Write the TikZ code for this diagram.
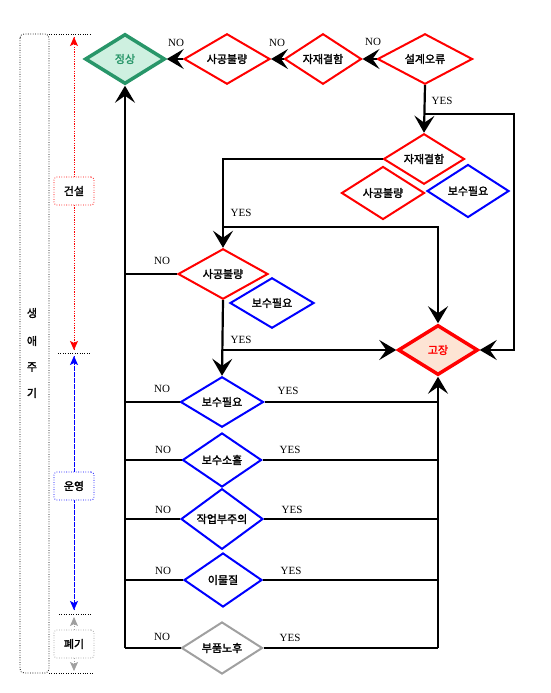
\documentclass[tikz,border=0pt]{standalone}
\usepackage{fontspec}
\setmainfont{Liberation Serif}
\newfontfamily\kr{Noto Sans CJK KR}[FakeBold=2]
\usetikzlibrary{shapes.geometric,arrows.meta}

\definecolor{okgreen}{RGB}{40,150,105}
\definecolor{okfill}{RGB}{206,240,224}
\definecolor{faultfill}{RGB}{253,228,212}
\definecolor{oldgray}{RGB}{160,160,160}

\tikzset{
  dia/.style={diamond, draw, line width=2pt, minimum width=84pt, minimum height=50pt,
    inner sep=0pt, font=\kr\fontsize{11}{12}\selectfont},
  redd/.style={dia, draw=red},
  blued/.style={dia, draw=blue},
  flow/.style={line width=2.2pt},
  arr/.style={flow, -{Stealth[length=17pt,width=20pt,inset=7pt]}},
  yn/.style={font=\fontsize{11}{12}\selectfont, inner sep=0pt},
  dots/.style={line width=0.8pt, dash pattern=on 0.8pt off 1.6pt},
  phase/.style={dots, rounded corners=3pt, fill=white, minimum width=40pt,
    minimum height=28pt, inner sep=0pt, font=\kr\fontsize{11}{12}\selectfont},
  tip/.style={-{Stealth[length=9pt,width=8pt,inset=2pt]}},
}

\begin{document}
\begin{tikzpicture}[x=1pt,y=-1pt]
  \useasboundingbox (0,0) rectangle (551,693);

  % life cycle column
  \draw[dots, rounded corners=4pt] (20,34) rectangle (49,673);
  \draw[dots] (49,34) -- (92,34);
  \draw[dots] (49,673) -- (93,673);
  \draw[dots] (58,353) -- (90,353);
  \draw[dots] (59,614) -- (91,614);
  \node[font=\kr\fontsize{11}{12}\selectfont] (lc1) at (32,313) {생};
  \node[font=\kr\fontsize{11}{12}\selectfont] (lc2) at (32,341) {애};
  \node[font=\kr\fontsize{11}{12}\selectfont] (lc3) at (32,367) {주};
  \node[font=\kr\fontsize{11}{12}\selectfont] (lc4) at (32,393) {기};

  \coordinate (bt) at (74,37);
  \coordinate (bb) at (74,350);
  \coordinate (ot) at (74,356);
  \coordinate (ob) at (74,610);
  \coordinate (dt) at (74,617);
  \coordinate (db) at (74,671);
  \draw[red, dots, tip] (bb) -- (bt);
  \draw[red, dots, tip] (bt) -- (bb);
  \draw[blue, dots, tip] (ob) -- (ot);
  \draw[blue, dots, tip] (ot) -- (ob);
  \node[phase, draw=red] (build) at (74,191) {건설};
  \node[phase, draw=blue] (oper) at (74,486) {운영};
  \node[phase, draw=oldgray] (disp) at (74,644) {폐기};
  \draw[oldgray, dots, tip] (disp.north) -- (dt);
  \draw[oldgray, dots, tip] (disp.south) -- (db);

  % top row
  \node[dia, draw=okgreen, fill=okfill, text=okgreen, line width=3.5pt,
    minimum width=80pt, minimum height=50pt] (ok) at (125,59) {정상};
  \node[redd, minimum width=86pt] (sg1) at (227,59) {사공불량};
  \node[redd, minimum width=77pt] (jj1) at (323,59) {자재결함};
  \node[redd, minimum width=95pt] (sk) at (425,59) {설계오류};
  \draw[arr] (sg1.west) -- (ok.east);
  \draw[arr] (jj1.west) -- (sg1.east);
  \draw[arr] (sk.west) -- (jj1.east);
  \node[yn] (no1) at (176,43) {NO};
  \node[yn] (no2) at (277,43) {NO};
  \node[yn] (no3) at (373,42) {NO};

  % construction checks
  \node[redd, minimum width=81pt, minimum height=49pt] (jj2) at (424,159) {자재결함};
  \node[redd, minimum width=83pt, minimum height=53pt] (sg2) at (383,193) {사공불량};
  \node[blued, minimum width=82pt, minimum height=53pt] (bs2) at (468,191) {보수필요};
  \draw[arr] (sk.south) -- (jj2.north);
  \node[yn] (yes1) at (442,101) {YES};

  \node[dia, draw=red, fill=faultfill, text=red, line width=3.5pt,
    minimum width=80pt, minimum height=50pt] (gj) at (438,350) {고장};
  \draw[arr] (sk.south) ++(0,29) -- ++(89,0) |- (gj.east);

  \node[redd, minimum width=90pt, minimum height=48pt] (sg3) at (223,274) {사공불량};
  \node[blued, minimum width=84pt, minimum height=50pt] (bs3) at (272,303) {보수필요};
  \draw[arr] (jj2.west) -| (sg3.north);
  \coordinate (j1) at (223,227);
  \draw[arr] (j1) -| (gj.north);
  \node[yn] (yes2) at (241,213) {YES};
  \draw[flow] (sg3.west) -- (sg3.west -| ok.south);
  \node[yn] (no4) at (162,261) {NO};

  % operation checks
  \node[blued, minimum width=83pt, minimum height=50pt] (bs4) at (222,402) {보수필요};
  \node[blued, minimum width=79pt, minimum height=54pt] (bh) at (222,460) {보수소홀};
  \node[blued, minimum width=82pt, minimum height=52pt] (jb) at (222,519) {작업부주의};
  \node[blued, minimum width=78pt, minimum height=54pt] (im) at (223,580) {이물질};
  \node[dia, draw=oldgray, minimum width=81pt, minimum height=52pt] (pn) at (222,648) {부품노후};

  \draw[arr] (sg3.south) -- (bs4.north);
  \draw[arr] (sg3.south |- gj.west) -- (gj.west);
  \node[yn] (yes3) at (241,340) {YES};

  \draw[arr] (pn.west -| ok.south) -- (ok.south);
  \draw[arr] (pn.east -| gj.south) -- (gj.south);

  \draw[flow] (bs4.west) -- (bs4.west -| ok.south);
  \draw[flow] (bs4.east) -- (bs4.east -| gj.south);
  \draw[flow] (bh.west) -- (bh.west -| ok.south);
  \draw[flow] (bh.east) -- (bh.east -| gj.south);
  \draw[flow] (jb.west) -- (jb.west -| ok.south);
  \draw[flow] (jb.east) -- (jb.east -| gj.south);
  \draw[flow] (im.west) -- (im.west -| ok.south);
  \draw[flow] (im.east) -- (im.east -| gj.south);
  \draw[flow] (pn.west) -- (pn.west -| ok.south);
  \draw[flow] (pn.east) -- (pn.east -| gj.south);

  \node[yn] (no5) at (162,389) {NO};
  \node[yn] (yes4) at (288,391) {YES};
  \node[yn] (no6) at (163,450) {NO};
  \node[yn] (yes5) at (290,450) {YES};
  \node[yn] (no7) at (163,510) {NO};
  \node[yn] (yes6) at (292,510) {YES};
  \node[yn] (no8) at (163,571) {NO};
  \node[yn] (yes7) at (291,571) {YES};
  \node[yn] (no9) at (162,637) {NO};
  \node[yn] (yes8) at (290,638) {YES};
\end{tikzpicture}
\end{document}
